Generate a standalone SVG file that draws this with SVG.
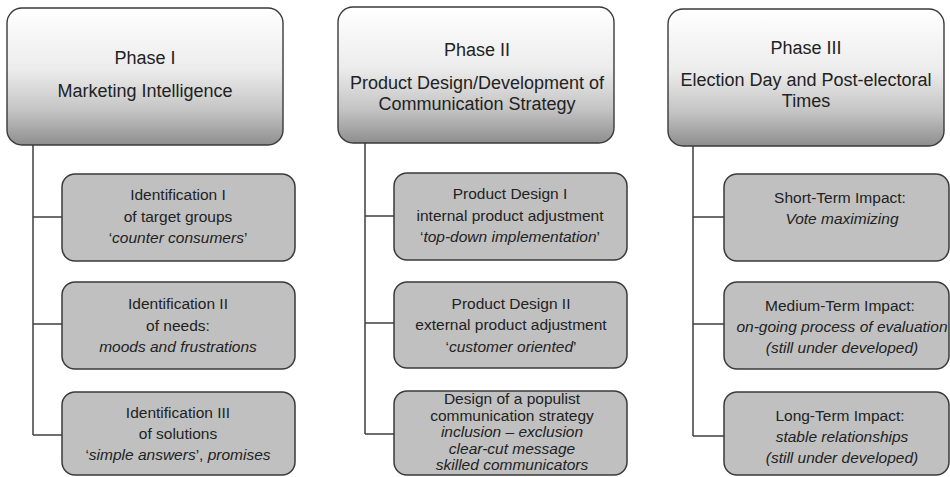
<svg xmlns="http://www.w3.org/2000/svg" width="950" height="477" viewBox="0 0 950 477">
  <defs>
    <linearGradient id="headFill" x1="0" y1="0" x2="0" y2="1">
      <stop offset="0" stop-color="#ffffff"/>
      <stop offset="0.45" stop-color="#ececec"/>
      <stop offset="0.75" stop-color="#c4c4c4"/>
      <stop offset="1" stop-color="#8e8e8e"/>
    </linearGradient>
  </defs>
  <style>
    .head { fill: url(#headFill); stroke: #3a3a3a; stroke-width: 1.4; }
    .item { fill: #c0c0c0; stroke: #3a3a3a; stroke-width: 1.5; }
    .link { fill: none; stroke: #3f3f3f; stroke-width: 1.5; }
    text { font-family: "Liberation Sans", Arial, sans-serif; fill: #222; text-anchor: middle; }
    .ttl { font-size: 18px; }
    .txt { font-size: 15.5px; }
    .it { font-style: italic; }
  </style>

  <!-- connectors -->
  <g id="connectors" class="link">
    <path d="M33,145 V435 M33,217 H62 M33,324 H62 M33,435 H62"/>
    <path d="M365,143 V434 M365,216 H394 M365,323 H394 M365,434 H394"/>
    <path d="M693,146 V436 M693,217 H724 M693,324 H724 M693,436 H724"/>
  </g>

  <!-- Phase I -->
  <g id="phase1">
    <rect class="head" x="7" y="8" width="276" height="137" rx="15"/>
    <text class="ttl" x="145" y="64">Phase I</text>
    <text class="ttl" x="145" y="97">Marketing Intelligence</text>
  </g>
  <g id="ident1">
    <rect class="item" x="62" y="174" width="233" height="87" rx="13"/>
    <text class="txt" x="178" y="200">Identification I</text>
    <text class="txt" x="178" y="222">of target groups</text>
    <text class="txt" x="178" y="243">‘<tspan class="it">counter consumers</tspan>’</text>
  </g>
  <g id="ident2">
    <rect class="item" x="62" y="282" width="233" height="87" rx="13"/>
    <text class="txt" x="178" y="309">Identification II</text>
    <text class="txt" x="178" y="331">of needs:</text>
    <text class="txt it" x="178" y="352">moods and frustrations</text>
  </g>
  <g id="ident3">
    <rect class="item" x="62" y="392" width="233" height="83" rx="13"/>
    <text class="txt" x="178" y="418">Identification III</text>
    <text class="txt" x="178" y="439">of solutions</text>
    <text class="txt" x="178" y="460">‘<tspan class="it">simple answers</tspan>’, <tspan class="it">promises</tspan></text>
  </g>

  <!-- Phase II -->
  <g id="phase2">
    <rect class="head" x="338" y="7" width="276" height="136" rx="15"/>
    <text class="ttl" x="477" y="56">Phase II</text>
    <text class="ttl" x="477" y="89">Product Design/Development of</text>
    <text class="ttl" x="477" y="110">Communication Strategy</text>
  </g>
  <g id="design1">
    <rect class="item" x="394" y="173" width="233" height="87" rx="13"/>
    <text class="txt" x="510" y="199">Product Design I</text>
    <text class="txt" x="510" y="221">internal product adjustment</text>
    <text class="txt" x="510" y="242">‘<tspan class="it">top-down implementation</tspan>’</text>
  </g>
  <g id="design2">
    <rect class="item" x="394" y="282" width="233" height="86" rx="13"/>
    <text class="txt" x="511" y="309">Product Design II</text>
    <text class="txt" x="511" y="330">external product adjustment</text>
    <text class="txt" x="511" y="352">‘<tspan class="it">customer oriented</tspan>’</text>
  </g>
  <g id="design3">
    <rect class="item" x="394" y="391" width="233" height="84" rx="13"/>
    <text class="txt" x="512" y="404">Design of a populist</text>
    <text class="txt" x="512" y="420.5">communication strategy</text>
    <text class="txt it" x="512" y="437">inclusion – exclusion</text>
    <text class="txt it" x="512" y="453.5">clear-cut message</text>
    <text class="txt it" x="512" y="470">skilled communicators</text>
  </g>

  <!-- Phase III -->
  <g id="phase3">
    <rect class="head" x="668" y="9" width="276" height="137" rx="15"/>
    <text class="ttl" x="806" y="54">Phase III</text>
    <text class="ttl" x="806" y="86">Election Day and Post-electoral</text>
    <text class="ttl" x="806" y="107">Times</text>
  </g>
  <g id="impact1">
    <rect class="item" x="724" y="174" width="225" height="87" rx="13"/>
    <text class="txt" x="840" y="203">Short-Term Impact:</text>
    <text class="txt it" x="842" y="224">Vote maximizing</text>
  </g>
  <g id="impact2">
    <rect class="item" x="724" y="282" width="225" height="87" rx="13"/>
    <text class="txt" x="840" y="311">Medium-Term Impact:</text>
    <text class="txt it" x="842" y="332">on-going process of evaluation</text>
    <text class="txt it" x="842" y="353">(still under developed)</text>
  </g>
  <g id="impact3">
    <rect class="item" x="724" y="392" width="225" height="83" rx="13"/>
    <text class="txt" x="840" y="421">Long-Term Impact:</text>
    <text class="txt it" x="842" y="442">stable relationships</text>
    <text class="txt it" x="842" y="463">(still under developed)</text>
  </g>
</svg>
